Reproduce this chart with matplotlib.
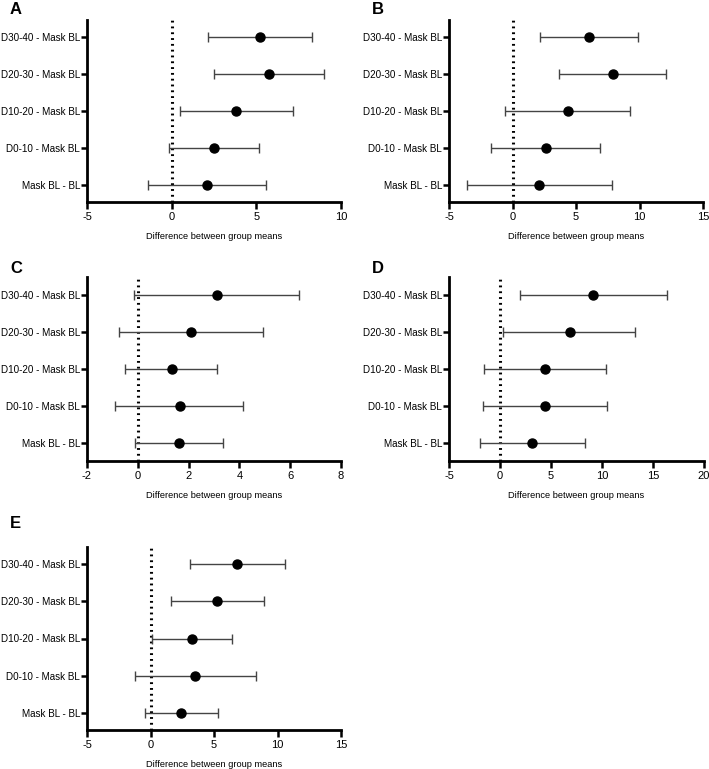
import matplotlib
matplotlib.use("Agg")
import matplotlib.pyplot as plt

plt.rcParams['font.family'] = ['Liberation Sans', 'DejaVu Sans']

categories = ["Mask BL - BL", "D0-10 - Mask BL", "D10-20 - Mask BL",
              "D20-30 - Mask BL", "D30-40 - Mask BL"]

# order: Mask BL-BL, D0-10, D10-20, D20-30, D30-40
A_mean = [2.09, 2.50, 3.82, 5.75, 5.19]
A_low = [-1.41, -0.18, 0.51, 2.49, 2.13]
A_high = [5.60, 5.17, 7.16, 9.02, 8.26]

B_mean = [2.10, 2.60, 4.34, 7.88, 5.99]
B_low = [-3.60, -1.73, -0.60, 3.65, 2.16]
B_high = [7.81, 6.91, 9.25, 12.10, 9.86]

C_mean = [1.64, 1.65, 1.34, 2.10, 3.11]
C_low = [-0.10, -0.88, -0.50, -0.75, -0.13]
C_high = [3.37, 4.15, 3.13, 4.94, 6.34]

D_mean = [3.17, 4.41, 4.41, 6.83, 9.15]
D_low = [-1.96, -1.67, -1.60, 0.29, 1.96]
D_high = [8.30, 10.46, 10.42, 13.27, 16.40]

E_mean = [2.41, 3.54, 3.25, 5.24, 6.81]
E_low = [-0.47, -1.23, 0.10, 1.63, 3.09]
E_high = [5.35, 8.28, 6.40, 8.91, 10.59]

panels = [
    ("A", A_mean, A_low, A_high, [-5, 0, 5, 10], (87, 341, 20, 202), (10, 10)),
    ("B", B_mean, B_low, B_high, [-5, 0, 5, 10, 15], (449, 703, 20, 202), (372, 10)),
    ("C", C_mean, C_low, C_high, [-2, 0, 2, 4, 6, 8], (87, 341, 277, 461), (10, 268)),
    ("D", D_mean, D_low, D_high, [-5, 0, 5, 10, 15, 20], (449, 704, 277, 461), (372, 268)),
    ("E", E_mean, E_low, E_high, [-5, 0, 5, 10, 15], (87, 341, 547, 730), (10, 523)),
]

W, H = 709, 769
fig = plt.figure(figsize=(W / 100, H / 100), dpi=100)

for label, mean, low, high, xticks, (l, r, t, b), (lx, ly) in panels:
    ax = fig.add_axes([l / W, (H - b) / H, (r - l) / W, (b - t) / H])
    y = list(range(len(categories)))
    xerr = [[m - lo for m, lo in zip(mean, low)], [hi - m for m, hi in zip(mean, high)]]
    ax.axvline(0, color='black', lw=2.2, ls=(0, (0.6, 1.3)), zorder=1)
    ax.errorbar(mean, y, xerr=xerr, fmt='o', color='black', ecolor='#444444',
                elinewidth=1.0, capsize=3.5, capthick=1.0, markersize=6.5, zorder=3)
    ax.set_xlim(xticks[0], xticks[-1])
    ax.set_ylim(-0.47, 4.47)
    ax.set_xticks(xticks)
    ax.set_xticklabels([str(v) for v in xticks])
    ax.set_yticks(y)
    ax.set_yticklabels(categories)
    for s in ['top', 'right']:
        ax.spines[s].set_visible(False)
    for s in ['left', 'bottom']:
        ax.spines[s].set_linewidth(2.0)
    ax.tick_params(axis='x', direction='out', length=5, width=1.8, labelsize=8, pad=2.5)
    ax.tick_params(axis='y', direction='out', length=4, width=1.8, labelsize=7.1, pad=1)
    ax.set_xlabel("Difference between group means", fontsize=6.7, labelpad=7)
    fig.text(lx / W, 1 - ly / H, label, fontsize=12, fontweight='bold',
             ha='left', va='center')

fig.savefig("out.png", dpi=100)
